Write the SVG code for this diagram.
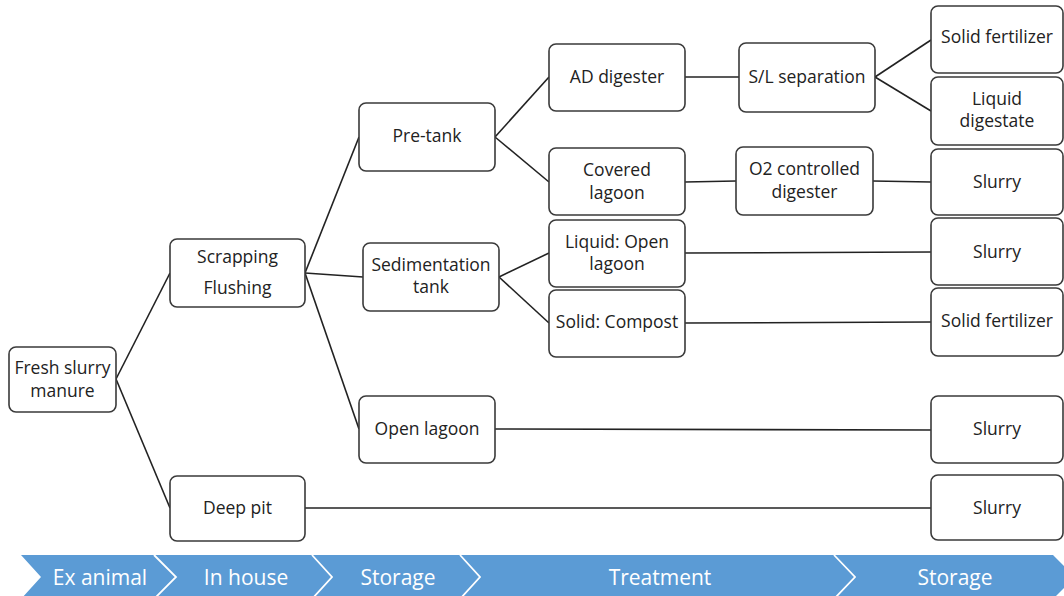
<svg xmlns="http://www.w3.org/2000/svg" width="1064" height="596" viewBox="0 0 1064 596">
<style>
.box{fill:#fff;stroke:#3a3a3a;stroke-width:1.6}
.t{font-family:"Open Sans","Liberation Sans",sans-serif;font-size:17.5px;fill:#222;text-anchor:middle}
.c line{stroke:#222;stroke-width:1.6}
.bt{font-family:"Open Sans","Liberation Sans",sans-serif;font-size:21px;fill:#fff;text-anchor:middle}
.sep{fill:none;stroke:#fff;stroke-width:1.8}
</style>
<rect width="1064" height="596" fill="#fff"/>
<g id="connectors" class="c">
<line x1="116" y1="379" x2="170" y2="273"/>
<line x1="116" y1="379" x2="170" y2="508"/>
<line x1="305" y1="273" x2="359" y2="137"/>
<line x1="305" y1="273" x2="363" y2="277"/>
<line x1="305" y1="273" x2="359" y2="429"/>
<line x1="495" y1="137" x2="549" y2="77"/>
<line x1="495" y1="137" x2="549" y2="182"/>
<line x1="499" y1="277" x2="549" y2="253"/>
<line x1="499" y1="277" x2="549" y2="323"/>
<line x1="685" y1="77" x2="739" y2="77"/>
<line x1="685" y1="182" x2="736" y2="181"/>
<line x1="875" y1="77" x2="931" y2="40"/>
<line x1="875" y1="77" x2="931" y2="111"/>
<line x1="873" y1="181" x2="931" y2="182"/>
<line x1="685" y1="253" x2="931" y2="252"/>
<line x1="685" y1="323" x2="931" y2="322"/>
<line x1="495" y1="429" x2="931" y2="430"/>
<line x1="305" y1="508" x2="931" y2="508"/>
</g>
<g id="fresh"><rect class="box" x="9" y="347" width="107" height="65" rx="7"/><text class="t" x="62.5" y="374">Fresh slurry</text><text class="t" x="62.5" y="397">manure</text></g>
<g id="scrapping"><rect class="box" x="170" y="239" width="135" height="68" rx="7"/><text class="t" x="237.5" y="263">Scrapping</text><text class="t" x="237.5" y="294">Flushing</text></g>
<g id="deeppit"><rect class="box" x="170" y="476" width="135" height="65" rx="7"/><text class="t" x="237.5" y="514">Deep pit</text></g>
<g id="pretank"><rect class="box" x="359" y="103" width="136" height="68" rx="7"/><text class="t" x="427" y="142">Pre-tank</text></g>
<g id="sedimentation"><rect class="box" x="363" y="243" width="136" height="68" rx="7"/><text class="t" x="431" y="271">Sedimentation</text><text class="t" x="431" y="293">tank</text></g>
<g id="openlagoon"><rect class="box" x="359" y="396" width="136" height="67" rx="7"/><text class="t" x="427" y="435">Open lagoon</text></g>
<g id="ad"><rect class="box" x="549" y="44" width="136" height="67" rx="7"/><text class="t" x="617" y="83">AD digester</text></g>
<g id="covered"><rect class="box" x="549" y="148" width="136" height="67" rx="7"/><text class="t" x="617" y="176">Covered</text><text class="t" x="617" y="199">lagoon</text></g>
<g id="liquidopen"><rect class="box" x="549" y="220" width="136" height="67" rx="7"/><text class="t" x="617" y="248">Liquid: Open</text><text class="t" x="617" y="270">lagoon</text></g>
<g id="compost"><rect class="box" x="549" y="290" width="136" height="67" rx="7"/><text class="t" x="617" y="328">Solid: Compost</text></g>
<g id="sl"><rect class="box" x="739" y="43" width="136" height="69" rx="7"/><text class="t" x="807" y="83">S/L separation</text></g>
<g id="o2"><rect class="box" x="736" y="147" width="137" height="68" rx="7"/><text class="t" x="804.5" y="175">O2 controlled</text><text class="t" x="804.5" y="198">digester</text></g>
<g id="solidfert1"><rect class="box" x="931" y="6" width="132" height="67" rx="7"/><text class="t" x="997" y="43">Solid fertilizer</text></g>
<g id="liquiddig"><rect class="box" x="931" y="77" width="132" height="68" rx="7"/><text class="t" x="997" y="105">Liquid</text><text class="t" x="997" y="127">digestate</text></g>
<g id="slurry1"><rect class="box" x="931" y="149" width="132" height="66" rx="7"/><text class="t" x="997" y="188">Slurry</text></g>
<g id="slurry2"><rect class="box" x="931" y="218" width="132" height="67" rx="7"/><text class="t" x="997" y="258">Slurry</text></g>
<g id="solidfert2"><rect class="box" x="931" y="288" width="132" height="68" rx="7"/><text class="t" x="997" y="327">Solid fertilizer</text></g>
<g id="slurry3"><rect class="box" x="931" y="396" width="132" height="67" rx="7"/><text class="t" x="997" y="435">Slurry</text></g>
<g id="slurry4"><rect class="box" x="931" y="475" width="132" height="65" rx="7"/><text class="t" x="997" y="514">Slurry</text></g>
<g id="stages">
<polygon points="21,555 1053,555 1075,577 1053,599 21,599 41,577" fill="#5B9BD5"/>
<polyline class="sep" points="154,555 176,577 154,599"/>
<polyline class="sep" points="312,555 332,577 312,599"/>
<polyline class="sep" points="460,555 480,577 460,599"/>
<polyline class="sep" points="834,555 855,577 834,599"/>
<text class="bt" x="100" y="585">Ex animal</text>
<text class="bt" x="246" y="585">In house</text>
<text class="bt" x="398" y="585">Storage</text>
<text class="bt" x="660" y="585">Treatment</text>
<text class="bt" x="955" y="585">Storage</text>
</g>
</svg>
